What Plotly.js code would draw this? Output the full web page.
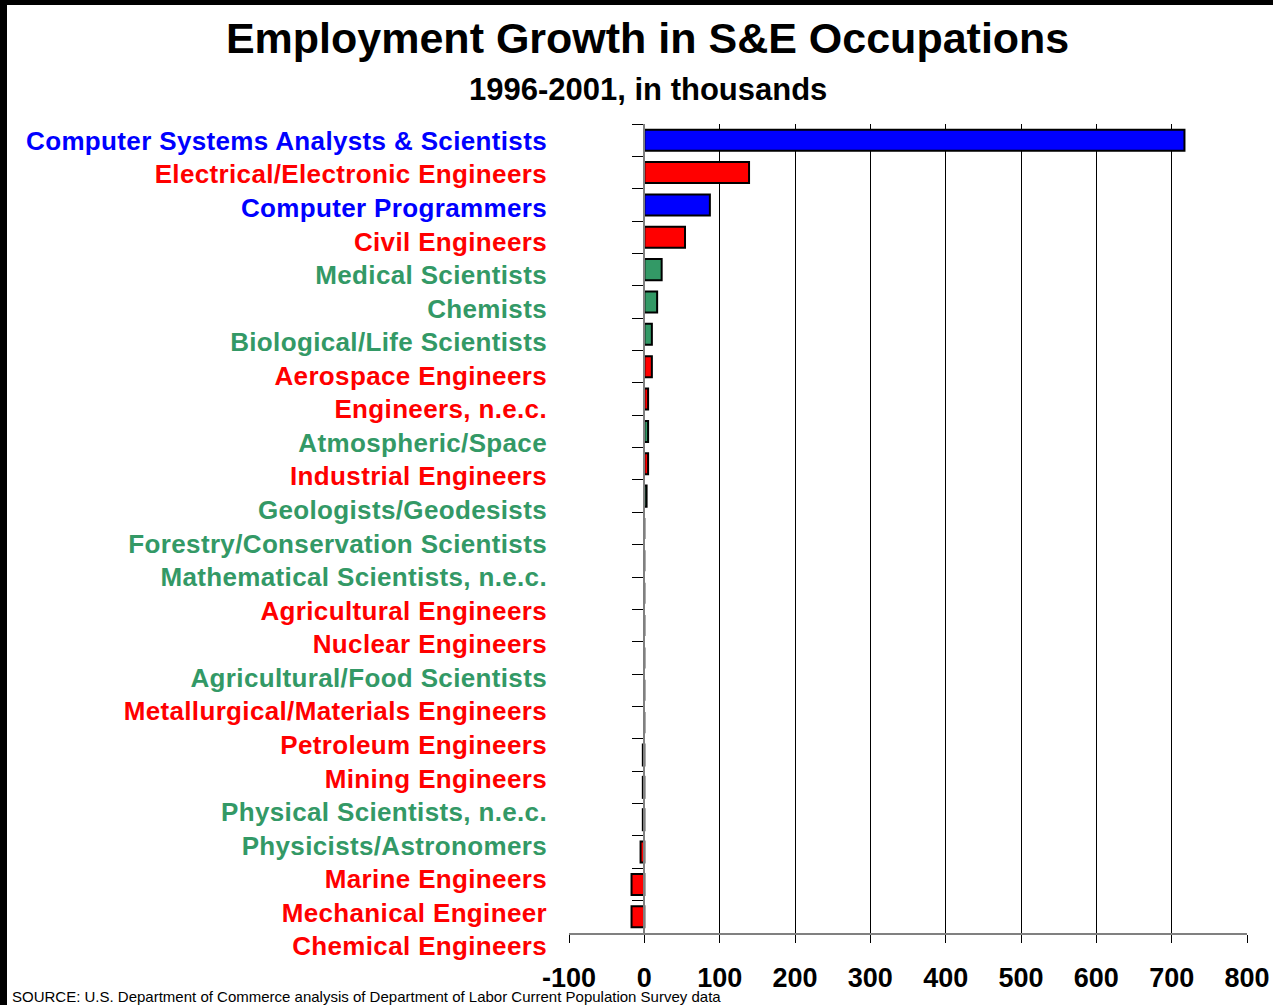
<!DOCTYPE html>
<html>
<head>
<meta charset="utf-8">
<script src="https://cdn.plot.ly/plotly-3.0.1.min.js"></script>
<style>
  html, body { margin: 0; padding: 0; background: #000; width: 1273px; height: 1005px; overflow: hidden; }
  #chart { position: absolute; left: 7px; top: 5px; width: 1266px; height: 1000px; background: #fff; }
  #chart .yaxislayer-above .y2tick text { letter-spacing: 0.35px; }
</style>
</head>
<body>
<div id="chart"></div>
<script>
// ---- Data ----
const categories = [
  "Computer Systems Analysts & Scientists",
  "Electrical/Electronic Engineers",
  "Computer Programmers",
  "Civil Engineers",
  "Medical Scientists",
  "Chemists",
  "Biological/Life Scientists",
  "Aerospace Engineers",
  "Engineers, n.e.c.",
  "Atmospheric/Space",
  "Industrial Engineers",
  "Geologists/Geodesists",
  "Forestry/Conservation Scientists",
  "Mathematical Scientists, n.e.c.",
  "Agricultural Engineers",
  "Nuclear Engineers",
  "Agricultural/Food Scientists",
  "Metallurgical/Materials Engineers",
  "Petroleum Engineers",
  "Mining Engineers",
  "Physical Scientists, n.e.c.",
  "Physicists/Astronomers",
  "Marine Engineers",
  "Mechanical Engineer",
  "Chemical Engineers"
];
const growth = [717, 139, 87, 54, 23, 17, 10, 10, 5, 5, 5, 3, 0, 0, 0, 0, 0, 0, 0, -2, -2, -2, -5, -17, -17];
const groups = [
  "computer", "engineer", "computer", "engineer", "scientist", "scientist",
  "scientist", "engineer", "engineer", "scientist", "engineer", "scientist",
  "scientist", "scientist", "engineer", "engineer", "scientist", "engineer",
  "engineer", "engineer", "scientist", "scientist", "engineer", "engineer", "engineer"
];
const groupColors = { computer: "#0000FF", engineer: "#FF0000", scientist: "#339966" };
const xTicks = [-100, 0, 100, 200, 300, 400, 500, 600, 700, 800];

const barColors = groups.map(g => groupColors[g]);
const labelText = categories.map((c, i) =>
  '<span style="color:' + groupColors[groups[i]] + '">' + c + '</span>');

const n = categories.length;

const bars = {
  type: "bar",
  orientation: "h",
  x: growth,
  y: categories,
  xaxis: "x",
  yaxis: "y",
  width: 0.65,
  marker: { color: barColors, line: { color: "#000", width: 2 } },
  hoverinfo: "x+y",
  showlegend: false
};

// invisible helper trace carrying the category label column
const labels = {
  type: "scatter",
  mode: "markers",
  x: categories.map(() => 0),
  y: categories,
  xaxis: "x2",
  yaxis: "y2",
  marker: { opacity: 0 },
  hoverinfo: "skip",
  showlegend: false
};

const layout = {
  width: 1266,
  height: 1000,
  margin: { l: 562, r: 26, t: 119, b: 42 },
  paper_bgcolor: "#fff",
  plot_bgcolor: "rgba(0,0,0,0)",
  font: { family: "Liberation Sans, Arial, sans-serif", color: "#000" },
  title: {
    text: "<b>Employment Growth in S&amp;E Occupations</b>",
    font: { family: "Liberation Sans, Arial, sans-serif", size: 43, color: "#000" },
    xref: "container", yref: "container",
    x: 0.506, y: 0.967, xanchor: "center", yanchor: "middle"
  },
  xaxis: {
    domain: [0, 1],
    anchor: "y",
    range: [-100, 800],
    tickvals: xTicks,
    ticktext: xTicks.map(String),
    showgrid: true, gridcolor: "#000", gridwidth: 1,
    zeroline: false,
    showline: true, linecolor: "#808080", linewidth: 2,
    ticks: "outside", ticklen: 8, tickcolor: "#000", tickwidth: 1,
    ticklabelstandoff: 12,
    tickfont: { family: "Liberation Sans, Arial, sans-serif", size: 27, weight: "bold", color: "#000" }
  },
  yaxis: {
    type: "category",
    categoryorder: "array",
    categoryarray: categories,
    domain: [0.0358, 1],
    range: [n - 0.5, -0.5],
    anchor: "free",
    position: 100 / 900,
    showticklabels: false,
    ticks: "outside", tickson: "boundaries", ticklen: 11, tickcolor: "#000", tickwidth: 1,
    showline: true, linecolor: "#808080", linewidth: 2,
    showgrid: false, zeroline: false
  },
  xaxis2: {
    domain: [0, 1], anchor: "y2", range: [0, 1], visible: false
  },
  yaxis2: {
    type: "category",
    categoryorder: "array",
    categoryarray: categories,
    domain: [0, 1],
    range: [n - 0.5, -0.5],
    anchor: "free",
    position: 0,
    tickmode: "array",
    tickvals: categories,
    ticktext: labelText,
    ticks: "",
    ticklabelstandoff: 22,
    tickfont: { family: "Liberation Sans, Arial, sans-serif", size: 26, weight: "bold" },
    showline: false, showgrid: false, zeroline: false
  },
  annotations: [
    {
      text: "<b>1996-2001, in thousands</b>",
      xref: "paper", yref: "paper",
      x: 0.1165, y: 1.0417, xanchor: "center", yanchor: "middle",
      showarrow: false,
      font: { family: "Liberation Sans, Arial, sans-serif", size: 31, color: "#000" }
    },
    {
      text: "SOURCE: U.S. Department of Commerce analysis of Department of Labor Current Population Survey data",
      xref: "paper", yref: "paper",
      x: -0.8245, y: -0.0405, xanchor: "left", yanchor: "middle",
      showarrow: false,
      font: { family: "Liberation Sans, Arial, sans-serif", size: 15, color: "#000" }
    }
  ]
};

Plotly.newPlot("chart", [bars, labels], layout, { displayModeBar: false, staticPlot: true });
</script>
</body>
</html>
